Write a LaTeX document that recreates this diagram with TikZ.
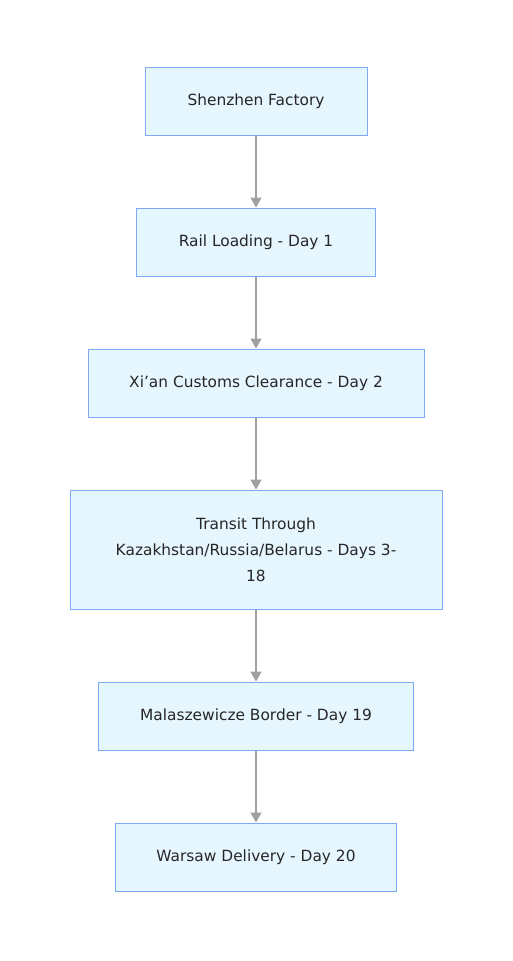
\documentclass[tikz,border=0pt]{standalone}
\usepackage{fontspec}
\setmainfont{DejaVu Sans}
\usetikzlibrary{arrows.meta}

\definecolor{boxfill}{HTML}{E6F6FF}
\definecolor{boxline}{HTML}{7FA8F5}
\definecolor{arrowgray}{HTML}{A0A0A0}

\tikzset{
  stage/.style={draw=boxline, fill=boxfill, line width=1pt,
    minimum height=68pt, align=center, text=black!85,
    font=\fontsize{15.4pt}{26pt}\selectfont},
  flow/.style={draw=arrowgray, line width=1.3pt,
    -{Triangle[width=11pt,length=10pt,fill=arrowgray]}}
}

\begin{document}
\begin{tikzpicture}[x=1pt,y=1pt]
  \useasboundingbox (0,0) rectangle (512,-961);
  \node[stage, minimum width=222pt] (shenzhen) at (256,-101) {Shenzhen Factory};
  \node[stage, minimum width=239pt] (rail) at (256,-242) {Rail Loading - Day 1};
  \node[stage, minimum width=336pt] (xian) at (256,-383) {Xi’an Customs Clearance - Day 2};
  \node[stage, minimum width=372pt, minimum height=119pt] (transit) at (256,-549.5)
    {Transit Through\\Kazakhstan/Russia/Belarus - Days 3-\\18};
  \node[stage, minimum width=315pt] (border) at (256,-716) {Malaszewicze Border - Day 19};
  \node[stage, minimum width=281pt] (warsaw) at (256,-857) {Warsaw Delivery - Day 20};

  \draw[flow] (shenzhen) -- (rail);
  \draw[flow] (rail) -- (xian);
  \draw[flow] (xian) -- (transit);
  \draw[flow] (transit) -- (border);
  \draw[flow] (border) -- (warsaw);
\end{tikzpicture}
\end{document}
